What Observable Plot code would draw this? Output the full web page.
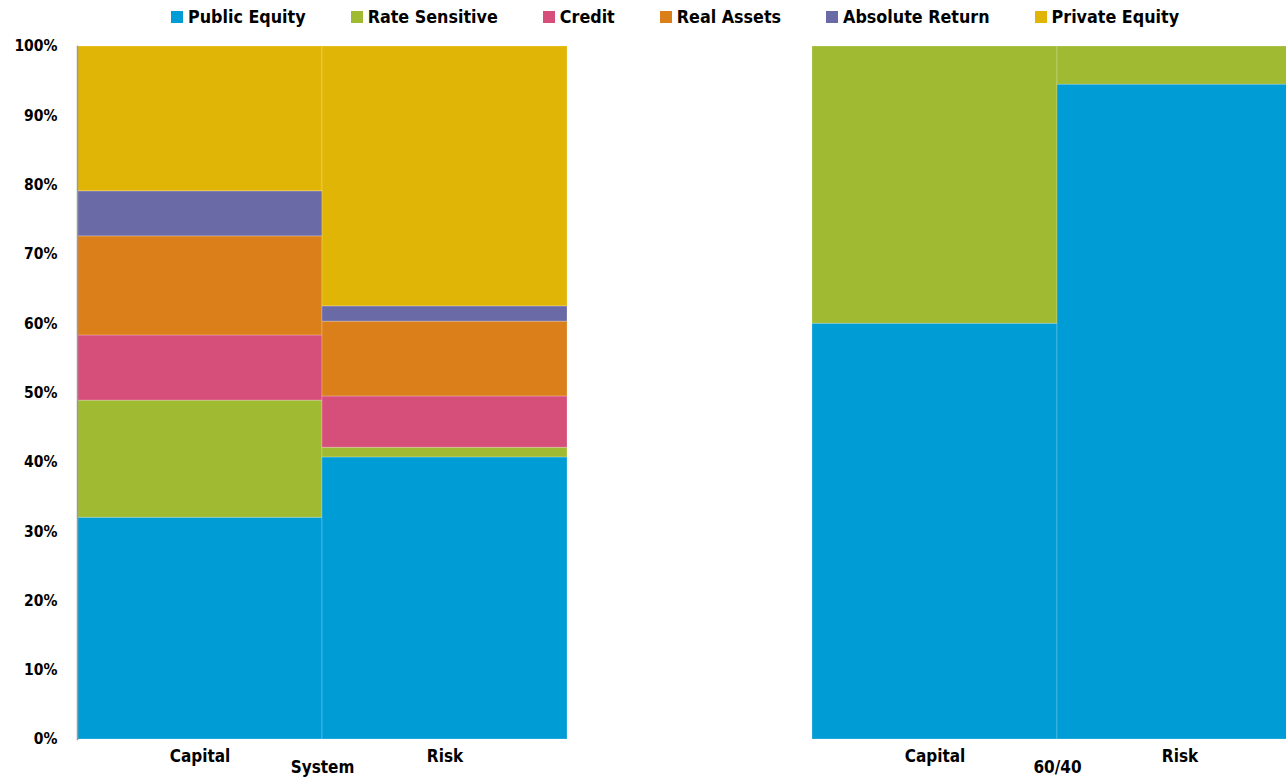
<!DOCTYPE html>
<html>
<head>
<meta charset="utf-8">
<script src="https://cdn.jsdelivr.net/npm/d3@7"></script>
<script src="https://cdn.jsdelivr.net/npm/@observablehq/plot@0.6"></script>
<style>
  html, body { margin: 0; padding: 0; background: #fff; overflow: hidden; }
  body { width: 1286px; height: 778px; font-family: "DejaVu Sans Condensed", "DejaVu Sans", sans-serif; }
  #legend { height: 34px; display: flex; justify-content: center; align-items: center; gap: 45px; font-weight: 700; font-size: 17.75px; color: #000; box-sizing: border-box; padding-left: 64px; }
  #legend .item { display: flex; align-items: center; }
  #legend .sw { width: 12px; height: 12px; margin-right: 5px; }
  #chart svg { max-width: none !important; }
</style>
</head>
<body>
<div id="legend"></div>
<div id="chart"></div>
<script>
const categories = ["Public Equity", "Rate Sensitive", "Credit", "Real Assets", "Absolute Return", "Private Equity"];
const colors = ["#009cd6", "#a0ba31", "#d64f7a", "#db7f1b", "#6a6ba6", "#e1b505"];
const groups = ["System", "60/40"];
const bars = ["Capital", "Risk"];

// shares (%) per category, [Capital, Risk]
const systemCapital = [32.0, 16.9, 9.4, 14.3, 6.5, 20.9];
const systemRisk    = [40.7, 1.4, 7.4, 10.8, 2.2, 37.5];
const sixtyFortyCapital = [60.0, 40.0, 0, 0, 0, 0];
const sixtyFortyRisk    = [94.5, 5.5, 0, 0, 0, 0];

const yTicks = [0, 0.1, 0.2, 0.3, 0.4, 0.5, 0.6, 0.7, 0.8, 0.9, 1.0];

const rows = [];
const series = [["System", "Capital", systemCapital], ["System", "Risk", systemRisk],
                ["60/40", "Capital", sixtyFortyCapital], ["60/40", "Risk", sixtyFortyRisk]];
for (const [g, b, vals] of series) {
  vals.forEach((v, i) => { if (v > 0) rows.push({group: g, bar: b, category: categories[i], value: v / 100}); });
}

// legend
const legend = d3.select("#legend");
categories.forEach((c, i) => {
  const it = legend.append("div").attr("class", "item");
  it.append("div").attr("class", "sw").style("background", colors[i]);
  it.append("span").text(c);
});

const chart = Plot.plot({
  width: 1302,
  height: 744,
  marginTop: 12,
  marginBottom: 39,
  marginLeft: 77,
  marginRight: 0,
  style: {fontFamily: "'DejaVu Sans Condensed', 'DejaVu Sans', sans-serif", fontWeight: 700, fontSize: "17px", color: "#000", overflow: "visible", maxWidth: "none"},
  fx: {domain: groups, paddingInner: 1/3, paddingOuter: 0, label: null},
  x: {domain: bars, padding: 0, label: null},
  y: {domain: [0, 1], label: null},
  color: {domain: categories, range: colors},
  marks: [
    Plot.barY(rows, {fx: "group", x: "bar", y: "value", fill: "category", order: categories, stroke: "#ffffff", strokeOpacity: 0.22, strokeWidth: 1, inset: 0}),
    Plot.frame({anchor: "left", facetAnchor: "left", stroke: "#9a9a9a", strokeWidth: 1.5}),
    Plot.axisY({ticks: yTicks, tickFormat: d3.format(".0%"), tickSize: 0, tickPadding: 20, fontSize: 15.5, label: null}),
    Plot.axisX({anchor: "bottom", tickSize: 0, tickPadding: 10, label: null}),
    Plot.axisFx({anchor: "bottom", tickSize: 0, tickPadding: 21, label: null})
  ]
});
document.getElementById("chart").appendChild(chart);
</script>
</body>
</html>
